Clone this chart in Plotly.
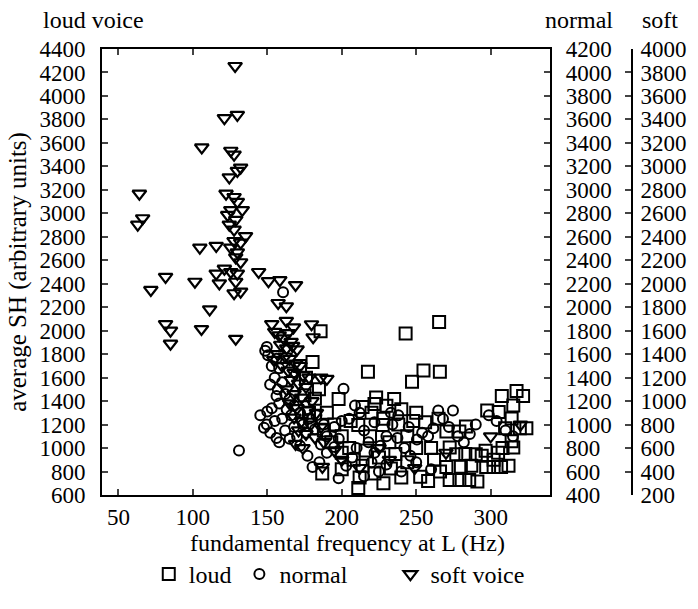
import plotly.graph_objects as go

# ---------------- data ----------------
# loud voice: left axis units
loud_f = [185.8, 180.4, 184.7, 197.9, 217.6, 242.9, 265.4, 254.9, 265.9, 247.2,
          223.1, 235.2, 222.0, 211.1, 227.5, 186.9, 211.1, 222.0, 233.0, 252.7,
          244.0, 270.3, 279.0, 283.4, 272.5, 276.9, 283.0, 290.0, 294.0, 272.5,
          279.0, 285.6, 291.1, 270.3, 280.0, 287.0, 297.0, 302.0, 307.0, 312.0,
          296.6, 297.7, 307.5, 317.4, 321.8, 305.4, 315.2, 314.1, 309.7, 319.6,
          324.0, 314.1, 315.2, 308.0, 302.0, 305.0,
          172.0, 176.0, 182.0, 190.0, 195.0, 200.0, 205.0, 208.0, 214.0, 200.0,
          193.0, 188.0, 178.0, 175.0, 230.0, 240.0, 250.0, 228.0, 238.0, 248.0,
          256.0, 219.0, 232.0, 244.0, 260.0, 216.0, 225.0, 236.0, 250.0, 262.0,
          240.0, 228.0, 258.0, 266.0, 265.0, 206.0, 214.0, 220.0, 212.0, 200.0]
loud_sh = [1995, 1734, 1500, 1417, 1650, 1975, 2075, 1660, 1650, 1565,
           1431, 1417, 1376, 1196, 1196, 783, 659, 783, 825, 756,
           880, 1141, 1141, 1183, 1004, 948, 950, 948, 935, 728,
           728, 728, 714, 838, 840, 850, 838, 838, 838, 850,
           976, 1320, 1444, 1486, 1444, 1307, 1362, 1252, 1169, 1169,
           1169, 1059, 1004, 1000, 900, 960,
           1700, 1600, 1420, 1300, 1200, 1100, 1000, 900, 850, 960,
           1050, 1150, 1300, 1450, 1360, 1330, 1300, 1250, 1200, 1230,
           1220, 1100, 1050, 1100, 1000, 980, 920, 950, 1000, 900,
           750, 700, 720, 800, 1250, 1230, 1350, 1300, 750, 820]

# normal voice: "normal" axis units
normal_f = [160.6, 149.7, 148.6, 150.5, 156.2, 153.0, 158.0, 151.9, 155.0, 160.0,
            157.0, 156.2, 162.0, 165.0, 150.0, 145.3, 153.0, 158.0, 163.0, 168.0,
            147.8, 149.7, 155.0, 160.0, 166.0, 172.0, 152.0, 156.2, 158.0, 162.0,
            168.0, 174.0, 178.0, 183.0, 165.0, 170.0, 176.0, 182.0, 188.0, 131.0,
            172.0, 177.0, 180.4, 185.0, 190.0, 195.0, 198.0, 201.2, 197.9, 203.0,
            207.0, 208.9, 205.0, 212.0, 215.0, 218.0, 210.0, 222.0, 226.0, 230.0,
            234.0, 238.0, 237.4, 242.0, 246.1, 250.5, 254.0, 258.0, 261.5, 264.8,
            274.7, 268.0, 272.0, 278.0, 282.0, 286.0, 290.0, 298.8, 304.0, 310.0,
            315.0, 220.0, 230.0, 240.0, 250.0, 260.0, 215.0, 225.0, 245.0, 233.0,
            222.0, 190.0, 186.0, 195.0, 200.0]
normal_sh = [2128, 1661, 1630, 1590, 1561, 1500, 1480, 1341, 1400, 1360,
             1300, 1244, 1260, 1220, 1111, 1079, 1140, 1180, 1130, 1160,
             973, 1000, 1030, 1050, 1080, 1100, 930, 886, 850, 950,
             980, 1000, 1050, 1080, 880, 900, 930, 960, 1000, 780,
             820, 735, 638, 680, 760, 810, 880, 1305, 542, 650,
             720, 1162, 1050, 1100, 950, 850, 800, 760, 820, 900,
             1000, 1080, 886, 800, 735, 872, 930, 900, 969, 1120,
             1120, 1050, 980, 900, 850, 920, 1000, 1079, 1030, 950,
             900, 680, 660, 600, 680, 620, 560, 600, 980, 1100,
             1020, 900, 830, 980, 1030]

# soft voice: "soft" axis units
soft_f = [128.4, 121.2, 129.9, 106.0, 125.5, 127.7, 132.1, 129.9, 124.5, 64.1,
          66.3, 63.0, 122.3, 127.7, 129.9, 125.5, 133.2, 123.4, 128.8, 124.5,
          127.7, 135.4, 127.7, 132.1, 125.5, 129.9, 104.7, 115.7, 128.8, 132.1,
          121.2, 125.5, 129.9, 144.2, 115.7, 150.8, 158.4, 169.0, 81.7, 71.8,
          101.4, 117.8, 128.8, 127.7, 132.1, 111.3, 157.3, 162.8, 81.7, 85.0,
          85.0, 105.8, 153.0, 162.8, 167.6, 128.8,
          155.0, 158.0, 161.0, 164.0, 166.0, 159.0, 163.0, 167.0, 170.0, 157.0,
          162.0, 165.0, 169.0, 172.0, 160.0, 164.0, 168.0, 174.0, 178.0, 186.0,
          190.0, 166.0, 171.0, 176.0, 163.0, 168.0, 173.0, 180.0, 165.0, 170.0,
          177.0, 183.0, 168.0, 173.0, 179.0, 186.0, 171.0, 176.0, 182.0, 169.0,
          174.0, 188.0, 195.0, 187.0, 200.0, 179.7, 180.8, 154.4,
          212.0, 249.0, 232.0, 225.0, 320.0, 300.0, 270.0]
soft_sh = [3855, 3411, 3439, 3161, 3133, 3100, 2989, 2961, 2906, 2767,
           2558, 2503, 2767, 2739, 2697, 2628, 2628, 2586, 2544, 2503,
           2461, 2406, 2364, 2350, 2308, 2267, 2308, 2322, 2225, 2183,
           2128, 2100, 2086, 2100, 2086, 2022, 2031, 1989, 2058, 1947,
           2017, 2003, 2017, 1919, 1933, 1781, 1836, 1808, 1656, 1600,
           1489, 1614, 1656, 1683, 1628, 1531,
           1590, 1560, 1535, 1580, 1505, 1480, 1450, 1470, 1440, 1400,
           1380, 1360, 1320, 1300, 1300, 1260, 1240, 1220, 1200, 1200,
           1190, 1180, 1150, 1120, 1100, 1060, 1030, 1000, 980, 940,
           920, 900, 860, 830, 800, 780, 750, 720, 690, 635,
           600, 650, 580, 440, 500, 1655, 1544, 1352,
           430, 430, 500, 600, 800, 700, 560]

# tick values of the three vertical axes
loud_ticks = list(range(600, 4401, 200))
normal_ticks = list(range(400, 4201, 200))
soft_ticks = list(range(200, 4001, 200))
x_ticks = [50, 100, 150, 200, 250, 300]

FONT = "Liberation Serif, DejaVu Serif, Times New Roman, serif"

fig = go.Figure()
fig.add_trace(go.Scatter(
    x=loud_f, y=loud_sh, mode="markers", name="loud", yaxis="y",
    legend="legend",
    marker=dict(symbol="square-open", size=12, color="black",
                line=dict(width=2, color="black"))))
fig.add_trace(go.Scatter(
    x=normal_f, y=normal_sh, mode="markers", name="normal", yaxis="y2",
    legend="legend2",
    marker=dict(symbol="circle-open", size=10, color="black",
                line=dict(width=2, color="black"))))
fig.add_trace(go.Scatter(
    x=soft_f, y=soft_sh, mode="markers", name="soft voice", yaxis="y3",
    legend="legend3",
    marker=dict(symbol="triangle-down-open", size=12, color="black",
                line=dict(width=2.2, color="black"))))

W, H = 698, 609
ML, MR, MT, MB = 102, 50, 49, 100
pw = W - ML - MR
ph = H - MT - MB
plot_right = 562
soft_x = 646

def px(xp):
    return (xp - ML) / pw

def py(yp):
    return (H - MB - yp) / ph

tickfont = dict(family=FONT, size=23, color="black")
textfont = dict(family=FONT, size=24, color="black")

def leg(xleft):
    return dict(orientation="h", x=px(xleft), xanchor="left",
                y=py(591), yanchor="middle", font=textfont,
                bgcolor="rgba(0,0,0,0)", itemsizing="trace")

fig.update_layout(
    width=W, height=H,
    margin=dict(l=ML, r=MR, t=MT, b=MB),
    paper_bgcolor="white", plot_bgcolor="white",
    font=dict(family=FONT, size=23, color="black"),
    showlegend=True,
    legend=leg(150),
    legend2=leg(243),
    legend3=leg(398),
    xaxis=dict(domain=[0, px(plot_right)], range=[39, 340],
               tickvals=x_ticks, ticks="inside", ticklen=6, tickwidth=1.5,
               showline=True, linewidth=2, linecolor="black", mirror="ticks",
               showgrid=False, zeroline=False, tickfont=tickfont),
    yaxis=dict(range=[600, 4400], tickvals=loud_ticks, ticks="inside",
               ticklen=6, tickwidth=1.5, showline=True, linewidth=2,
               linecolor="black", showgrid=False, zeroline=False,
               tickfont=tickfont, ticklabelstandoff=10,
               title=dict(text="average SH (arbitrary units)",
                          font=dict(family=FONT, size=25, color="black"),
                          standoff=6)),
    yaxis2=dict(range=[400, 4200], tickvals=normal_ticks, overlaying="y",
                side="right", anchor="x", ticks="inside", ticklen=6,
                tickwidth=1.5, showline=True, linewidth=2, linecolor="black",
                showgrid=False, zeroline=False, tickfont=tickfont,
                ticklabelstandoff=9),
    yaxis3=dict(range=[200, 4000], tickvals=soft_ticks, overlaying="y",
                side="right", anchor="free", position=px(soft_x),
                ticks="inside", ticklen=6, tickwidth=1.5, showline=True,
                linewidth=1.5, linecolor="black", showgrid=False,
                zeroline=False, tickfont=tickfont, ticklabelstandoff=3),
)

fig.add_annotation(text="loud voice", xref="paper", yref="paper",
                   x=px(39), y=py(19), xanchor="left", yanchor="middle",
                   showarrow=False, font=textfont)
fig.add_annotation(text="normal", xref="paper", yref="paper",
                   x=px(592), y=py(19), xanchor="center", yanchor="middle",
                   showarrow=False, font=textfont)
fig.add_annotation(text="soft", xref="paper", yref="paper",
                   x=px(675), y=py(19), xanchor="center", yanchor="middle",
                   showarrow=False, font=textfont)
fig.add_annotation(text="fundamental frequency at L (Hz)", xref="paper",
                   yref="paper", x=px(354), y=py(559), xanchor="center",
                   yanchor="middle", showarrow=False, font=textfont)

fig.write_html("out.html", config={"displayModeBar": False},
               post_script="document.body.style.margin='0';")
